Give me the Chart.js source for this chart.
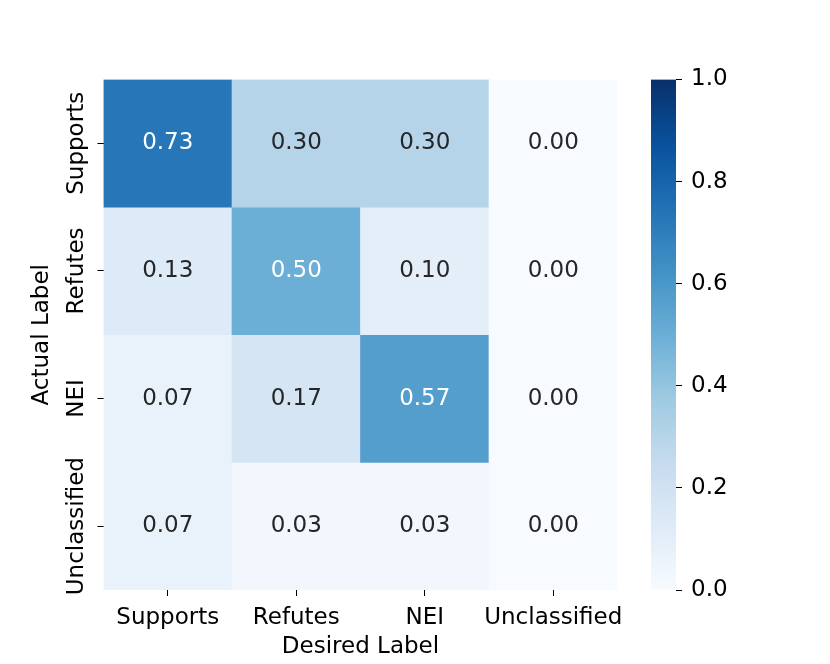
<!DOCTYPE html>
<html>
<head>
<meta charset="utf-8">
<script src="https://cdn.jsdelivr.net/npm/chart.js@4"></script>
<style>
  body { margin: 0; background: #fff; }
  #wrap { position: relative; width: 830px; height: 664px; }
  #wrap canvas { position: absolute; left: 0; top: 0; }
</style>
</head>
<body>
<div id="wrap">
  <canvas id="ctx" width="830" height="664"></canvas>
  <canvas id="ctx2" width="830" height="664"></canvas>
</div>
<script>
// Data
const labels = ['Supports', 'Refutes', 'NEI', 'Unclassified'];
const supports = [0.73, 0.30, 0.30, 0.00];
const refutes = [0.13, 0.50, 0.10, 0.00];
const nei = [0.07, 0.17, 0.57, 0.00];
const unclassified = [0.07, 0.03, 0.03, 0.00];
const rows = [supports, refutes, nei, unclassified];
const cbarTicks = [0, 0.2, 0.4, 0.6, 0.8, 1.0];

// Blues colormap
const blues = ['#f7fbff', '#deebf7', '#c6dbef', '#9ecae1', '#6baed6', '#4292c6', '#2171b5', '#08519c', '#08306b'];
function hex(h) { return [1, 3, 5].map(i => parseInt(h.substr(i, 2), 16)); }
function blue(v) {
  const p = Math.max(0, Math.min(1, v)) * 8;
  const i = Math.min(7, Math.floor(p));
  const t = p - i;
  const a = hex(blues[i]), b = hex(blues[i + 1]);
  const c = a.map((x, k) => Math.round(x + (b[k] - x) * t));
  return 'rgb(' + c.join(',') + ')';
}
function isDark(v) {
  const c = blue(v).match(/\d+/g).map(Number).map(x => {
    x /= 255;
    return x <= 0.03928 ? x / 12.92 : Math.pow((x + 0.055) / 1.055, 2.4);
  });
  return 0.2126 * c[0] + 0.7152 * c[1] + 0.0722 * c[2] <= 0.408;
}

Chart.defaults.font.family = '"DejaVu Sans", sans-serif';
Chart.defaults.font.size = 23;
Chart.defaults.color = '#000';

const nRows = rows.length;

// cell text + rotated y tick labels
const heatText = {
  id: 'heatText',
  afterDatasetsDraw(chart) {
    const {ctx, scales: {x, y}} = chart;
    ctx.save();
    ctx.font = '23px "DejaVu Sans"';
    ctx.textAlign = 'center';
    ctx.textBaseline = 'middle';
    rows.forEach((r, i) => {
      r.forEach((v, j) => {
        ctx.fillStyle = isDark(v) ? '#ffffff' : '#262626';
        ctx.fillText(v.toFixed(2), x.getPixelForValue(j), y.getPixelForValue(nRows - 0.5 - i));
      });
    });
    ctx.fillStyle = '#000';
    labels.forEach((l, i) => {
      ctx.save();
      ctx.translate(77, y.getPixelForValue(nRows - 0.5 - i));
      ctx.rotate(-Math.PI / 2);
      ctx.fillText(l, 0, 0);
      ctx.restore();
    });
    ctx.restore();
  }
};

// Heatmap
new Chart(document.getElementById('ctx'), {
  type: 'bar',
  data: {
    labels: labels,
    datasets: rows.map((r, i) => ({
      label: labels[i],
      data: r.map(() => [nRows - 1 - i, nRows - i]),
      backgroundColor: r.map(v => blue(v)),
      borderWidth: 0,
      barPercentage: 1,
      categoryPercentage: 1
    }))
  },
  options: {
    responsive: false,
    animation: false,
    layout: { padding: { left: 0, right: 212.5, top: 79.5, bottom: 0 } },
    plugins: { legend: { display: false }, tooltip: { enabled: false } },
    scales: {
      x: {
        stacked: true,
        grid: { offset: false, drawOnChartArea: false, drawTicks: true, tickLength: 6, color: '#000' },
        border: { display: false },
        ticks: { padding: 8, color: '#000', maxRotation: 0, autoSkip: false },
        title: { display: true, text: 'Desired Label', padding: { top: 0, bottom: 3 }, color: '#000' },
        afterFit(s) { s.height = 74; }
      },
      y: {
        min: 0, max: nRows,
        afterBuildTicks(s) { s.ticks = labels.map((l, i) => ({ value: i + 0.5 })); },
        grid: { drawOnChartArea: false, drawTicks: true, tickLength: 6, color: '#000' },
        border: { display: false },
        ticks: { display: false },
        title: { display: true, text: 'Actual Label', padding: { top: 28, bottom: 0 }, color: '#000' },
        afterFit(s) { s.width = 103.5; }
      }
    }
  },
  plugins: [heatText]
});

// Colorbar
new Chart(document.getElementById('ctx2'), {
  type: 'bar',
  data: {
    labels: [''],
    datasets: [{
      data: [[cbarTicks[0], cbarTicks[cbarTicks.length - 1]]],
      borderWidth: 0,
      barPercentage: 1,
      categoryPercentage: 1,
      backgroundColor(c) {
        const {ctx, chartArea} = c.chart;
        if (!chartArea) return '#fff';
        const g = ctx.createLinearGradient(0, chartArea.bottom, 0, chartArea.top);
        blues.forEach((b, i) => g.addColorStop(i / 8, b));
        return g;
      }
    }]
  },
  options: {
    responsive: false,
    animation: false,
    layout: { padding: { left: 651, right: 94, top: 79.5, bottom: 74 } },
    plugins: { legend: { display: false }, tooltip: { enabled: false } },
    scales: {
      x: { display: false },
      y: {
        position: 'right',
        min: 0, max: 1,
        afterBuildTicks(s) { s.ticks = cbarTicks.map(v => ({ value: v })); },
        grid: { drawOnChartArea: false, drawTicks: true, tickLength: 6, color: '#000' },
        border: { display: false },
        ticks: { padding: 9, color: '#000', callback: v => Number(v).toFixed(1) },
        afterFit(s) { s.width = 60; }
      }
    }
  }
});
</script>
</body>
</html>
